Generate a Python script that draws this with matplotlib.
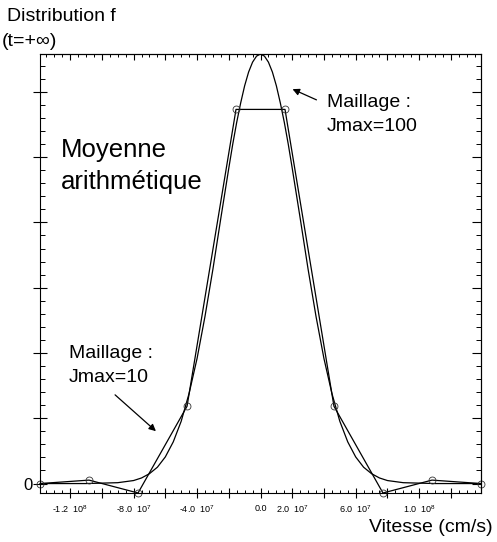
import numpy as np
import matplotlib
matplotlib.use('Agg')
import matplotlib.pyplot as plt
from matplotlib.ticker import MultipleLocator, NullFormatter

plt.rcParams['font.family'] = ['Liberation Sans', 'DejaVu Sans']
plt.rcParams['mathtext.fontset'] = 'custom'
plt.rcParams['mathtext.rm'] = 'Liberation Sans'
plt.rcParams['mathtext.default'] = 'regular'

# fine mesh (Jmax=100), velocities in units of 1e7 cm/s
v_fine = [-13.9, -12, -11, -10, -9, -8, -7.5, -7, -6.5, -6, -5.5, -5, -4.5, -4,
          -3.5, -3, -2.5, -2, -1.75, -1.5, -1.25, -1, -0.75, -0.5, -0.25, 0,
          0.25, 0.5, 0.75, 1, 1.25, 1.5, 1.75, 2, 2.5, 3, 3.5,
          4, 4.5, 5, 5.5, 6, 6.5, 7, 7.5, 8, 9, 10, 11, 12, 13.9]
f_fine = [0.000, 0.000, 0.000, 0.001, 0.002, 0.007, 0.013, 0.023, 0.038, 0.062,
          0.097, 0.145, 0.210, 0.291, 0.389, 0.499, 0.618, 0.734, 0.790, 0.841,
          0.886, 0.926, 0.958, 0.981, 0.995, 1.000,
          0.995, 0.981, 0.958, 0.926, 0.886, 0.841, 0.790, 0.734, 0.618, 0.499,
          0.389, 0.291, 0.210, 0.145, 0.097, 0.062, 0.038, 0.023, 0.013, 0.007,
          0.002, 0.001, 0.000, 0.000, 0.000]

# coarse mesh (Jmax=10)
v_coarse = [-13.9, -10.81, -7.72, -4.63, -1.545, 1.545, 4.63, 7.72, 10.81, 13.9]
f_coarse = [0.000, 0.008, -0.022, 0.180, 0.871, 0.871, 0.180, -0.022, 0.008, 0.000]

tick_values = [-1.2e8, -8.0e7, -4.0e7, 0.0, 2.0e7, 6.0e7, 1.0e8]
tick_labels = ['-1.2  10$^{8}$', '-8.0  10$^{7}$', '-4.0  10$^{7}$', '0.0',
               '2.0  10$^{7}$', '6.0  10$^{7}$', '1.0  10$^{8}$']

W, H = 497, 542
fig = plt.figure(figsize=(W / 100, H / 100), dpi=100)
ax = fig.add_axes([40 / W, 1 - 493 / H, 441 / W, 439 / H])

vf = np.array(v_fine) * 1e7
vc = np.array(v_coarse) * 1e7
ax.plot(vf, f_fine, color='black', lw=0.9)
ax.plot(vc, f_coarse, color='black', lw=0.9, marker='o', ms=5,
        mfc='none', mec='#333333', mew=0.6, clip_on=False)

ax.set_xlim(-1.39e8, 1.39e8)
ax.set_ylim(-0.022, 1.0)

majors = np.arange(-12, 13, 2) * 1e7
lab = dict(zip(tick_values, tick_labels))
ax.set_xticks(majors)
ax.set_xticklabels([lab.get(float(m), '') for m in majors], fontsize=6.5)
ax.xaxis.set_minor_locator(MultipleLocator(5e6))
ax.tick_params(axis='x', which='major', direction='inout', length=7.2,
               width=0.8, pad=4, top=False)
ax.tick_params(axis='x', which='minor', direction='in', length=2.2,
               width=0.7, top=False)

ymaj = np.arange(0, 7) * 0.152
ax.set_yticks(ymaj)
ax.set_yticklabels(['0'] + [''] * 6, fontsize=12)
ax.yaxis.set_minor_locator(MultipleLocator(0.0304))
ax.tick_params(axis='y', which='major', direction='inout', length=9.4,
               width=0.8, pad=0.5, right=False)
ax.tick_params(axis='y', which='minor', direction='in', length=3.6,
               width=0.7, right=False)

secx = ax.secondary_xaxis('top')
secx.set_xticks(majors)
secx.xaxis.set_major_formatter(NullFormatter())
secx.xaxis.set_minor_locator(MultipleLocator(5e6))
secx.tick_params(which='major', direction='in', length=4.3, width=0.8)
secx.tick_params(which='minor', direction='in', length=2.2, width=0.7)

secy = ax.secondary_yaxis('right')
secy.set_yticks(ymaj)
secy.yaxis.set_major_formatter(NullFormatter())
secy.yaxis.set_minor_locator(MultipleLocator(0.0304))
secy.tick_params(which='major', direction='in', length=6.5, width=0.8)
secy.tick_params(which='minor', direction='in', length=3.4, width=0.7)

for s in list(ax.spines.values()) + [secx.spines['top'], secy.spines['right']]:
    s.set_linewidth(0.8)


def ftext(x, y, s, **kw):
    fig.text(x / W, 1 - y / H, s, va='baseline', **kw)


ftext(7, 21, 'Distribution f', fontsize=14)
ftext(2, 46, '(t=+\u221e)', fontsize=14)
ftext(493, 532, 'Vitesse (cm/s)', fontsize=14, ha='right')
ftext(61, 157, 'Moyenne', fontsize=18.5)
ftext(61, 189, 'arithm\u00e9tique', fontsize=18.5)
ftext(327, 107, 'Maillage :', fontsize=14)
ftext(327, 131, 'Jmax=100', fontsize=14)
ftext(69, 358, 'Maillage :', fontsize=14)
ftext(69, 382, 'Jmax=10', fontsize=14)

arrow = dict(arrowstyle='-|>', color='black', lw=0.9, mutation_scale=10)
ax.annotate('', xy=(290, H - 88), xytext=(319, H - 101),
            xycoords='figure pixels', textcoords='figure pixels', arrowprops=arrow)
ax.annotate('', xy=(158, H - 433), xytext=(113, H - 393),
            xycoords='figure pixels', textcoords='figure pixels', arrowprops=arrow)

fig.savefig('out.png', dpi=100)
